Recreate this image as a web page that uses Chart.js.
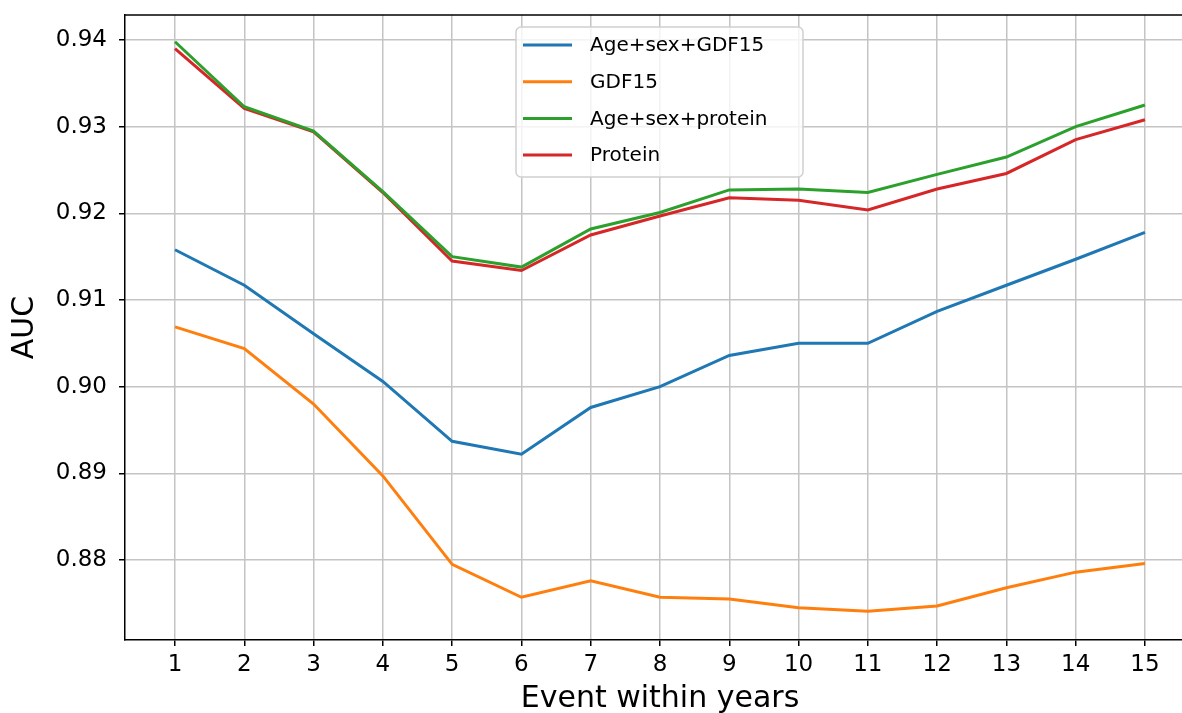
<!DOCTYPE html>
<html>
<head>
<meta charset="utf-8">
<script src="https://cdn.jsdelivr.net/npm/chart.js@4"></script>
<style>
  html, body { margin: 0; padding: 0; background: #fff; overflow: hidden; }
  #wrap { position: relative; width: 1200px; height: 713px; }
</style>
</head>
<body>
<div id="wrap"><canvas id="aucChart"></canvas></div>
<script>
var years = [1, 2, 3, 4, 5, 6, 7, 8, 9, 10, 11, 12, 13, 14, 15];
var yTicks = [0.88, 0.89, 0.90, 0.91, 0.92, 0.93, 0.94];

var ageSexGdf15 = [0.9158, 0.9117, 0.9061, 0.9006, 0.8937, 0.8922, 0.8976, 0.9000, 0.9036, 0.9050, 0.9050, 0.9087, 0.9117, 0.9147, 0.9178];
var gdf15 = [0.9069, 0.9044, 0.8980, 0.8897, 0.8795, 0.8757, 0.8776, 0.8757, 0.8755, 0.8745, 0.8741, 0.8747, 0.8768, 0.8786, 0.8796];
var ageSexProtein = [0.9398, 0.9323, 0.9295, 0.9225, 0.9150, 0.9138, 0.9182, 0.9201, 0.9227, 0.9228, 0.9224, 0.9245, 0.9265, 0.9300, 0.9325];
var protein = [0.9390, 0.9321, 0.9294, 0.9224, 0.9145, 0.9134, 0.9175, 0.9197, 0.9218, 0.9215, 0.9204, 0.9228, 0.9246, 0.9285, 0.9308];

var seriesNames = ["Age+sex+GDF15", "GDF15", "Age+sex+protein", "Protein"];
var seriesColors = ["#1f77b4", "#ff7f0e", "#2ca02c", "#d62728"];
var seriesValues = [ageSexGdf15, gdf15, ageSexProtein, protein];

var FONT = "'DejaVu Sans', sans-serif";

function toPoints(values) {
  return years.map(function (x, i) { return { x: x, y: values[i] }; });
}

// top spine only, the right one is cut off in the original
var frame = {
  id: "frame",
  afterDatasetsDraw: function (chart) {
    var a = chart.chartArea, c = chart.ctx;
    c.save();
    c.strokeStyle = "#000";
    c.lineWidth = 1.5;
    c.beginPath();
    c.moveTo(a.left, a.top);
    c.lineTo(a.right, a.top);
    c.stroke();
    c.restore();
  }
};

// legend box inside the plot, upper centre
var boxLegend = {
  id: "boxLegend",
  afterDraw: function (chart) {
    var c = chart.ctx;
    var x = 516, y = 27, w = 287, h = 150, r = 5;
    c.save();
    c.beginPath();
    c.roundRect(x, y, w, h, r);
    c.fillStyle = "rgba(255,255,255,0.8)";
    c.fill();
    c.strokeStyle = "#d0d0d0";
    c.lineWidth = 1.5;
    c.stroke();
    c.font = "20px " + FONT;
    c.textBaseline = "middle";
    chart.data.datasets.forEach(function (ds, i) {
      var cy = 45 + i * 36.7;
      c.strokeStyle = ds.borderColor;
      c.lineWidth = 3;
      c.beginPath();
      c.moveTo(523, cy);
      c.lineTo(572, cy);
      c.stroke();
      c.fillStyle = "#000";
      c.fillText(ds.label, 590, cy + 1);
    });
    c.restore();
  }
};

function noPad(scale) {
  scale.paddingTop = 0;
  scale.paddingBottom = 0;
  scale.paddingLeft = 0;
  scale.paddingRight = 0;
}

var ctx = document.getElementById("aucChart").getContext("2d");
var aucChart = new Chart(ctx, {
  type: "line",
  data: {
    datasets: seriesNames.map(function (name, i) {
      return {
        label: name,
        data: toPoints(seriesValues[i]),
        borderColor: seriesColors[i],
        backgroundColor: seriesColors[i],
        borderWidth: 3,
        pointRadius: 0,
        tension: 0,
        fill: false
      };
    })
  },
  options: {
    responsive: true,
    maintainAspectRatio: false,
    animation: false,
    devicePixelRatio: 1,
    layout: { padding: { left: 0, top: 15, right: 5, bottom: 0 } },
    plugins: {
      legend: { display: false },
      tooltip: { enabled: false }
    },
    scales: {
      x: {
        type: "linear",
        min: 0.278,
        max: 15.722,
        afterBuildTicks: function (scale) {
          scale.ticks = years.map(function (v) { return { value: v }; });
        },
        afterFit: function (scale) { scale.height = 73; noPad(scale); },
        grid: { color: "#c4c4c4", lineWidth: 1.5, tickColor: "#000", tickLength: 6, tickWidth: 1.5 },
        border: { display: true, color: "#000", width: 1.5 },
        ticks: {
          autoSkip: false,
          maxRotation: 0,
          padding: 5,
          color: "#000",
          font: { family: FONT, size: 23 },
          callback: function (v) { return String(v); }
        },
        title: {
          display: true,
          text: "Event within years",
          color: "#000",
          font: { family: FONT, size: 30, lineHeight: 0.9 },
          padding: { top: 0, bottom: 0 }
        }
      },
      y: {
        type: "linear",
        min: 0.87077,
        max: 0.942885,
        afterBuildTicks: function (scale) {
          scale.ticks = yTicks.map(function (v) { return { value: v }; });
        },
        afterFit: function (scale) { scale.width = 125; noPad(scale); },
        grid: { color: "#c4c4c4", lineWidth: 1.5, tickColor: "#000", tickLength: 6, tickWidth: 1.5 },
        border: { display: true, color: "#000", width: 1.5 },
        ticks: {
          padding: 12,
          color: "#000",
          font: { family: FONT, size: 23 },
          callback: function (v) { return Number(v).toFixed(2); }
        },
        title: {
          display: true,
          text: "AUC",
          color: "#000",
          font: { family: FONT, size: 30, lineHeight: 1 },
          padding: { top: 10, bottom: 0 }
        }
      }
    }
  },
  plugins: [frame, boxLegend]
});
</script>
</body>
</html>
